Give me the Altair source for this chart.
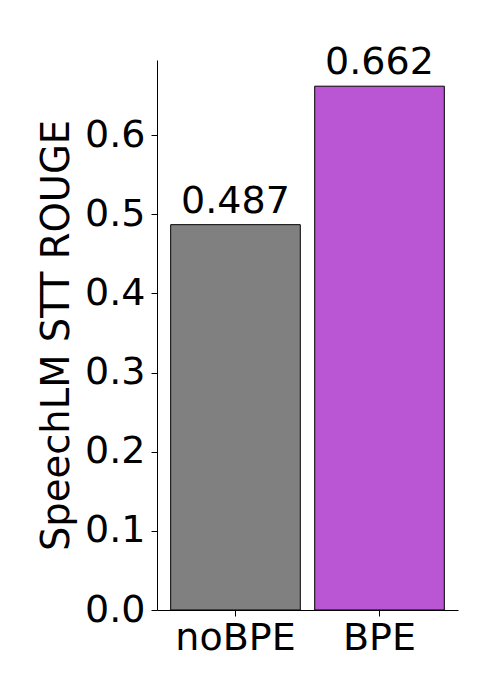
import altair as alt
import pandas as pd

categories = ["noBPE", "BPE"]
values = [0.487, 0.662]
colors = ["#808080", "#BA55D3"]
labels = ["0.487", "0.662"]

df = pd.DataFrame({"cat": categories, "val": values, "lab": labels})

FONT = "DejaVu Sans"
FS = 38

x = alt.X("cat:N", sort=categories,
          scale=alt.Scale(paddingInner=0.1, paddingOuter=0.095),
          axis=alt.Axis(title=None, labelAngle=0, labelFontSize=FS, labelFont=FONT,
                        labelColor="black", tickColor="black", tickSize=6,
                        domainColor="black", labelPadding=3))
y = alt.Y("val:Q", scale=alt.Scale(domain=[0, 0.6951], nice=False, zero=True),
          axis=alt.Axis(title="SpeechLM STT ROUGE", values=[0, 0.1, 0.2, 0.3, 0.4, 0.5, 0.6],
                        format=".1f", labelFontSize=FS, labelFont=FONT, labelColor="black",
                        titleFontSize=38.5, titleFont=FONT, titleFontWeight="normal",
                        titleColor="black", tickColor="black", tickSize=6,
                        domainColor="black", grid=False, labelPadding=6, titlePadding=8))

bars = alt.Chart(df).mark_bar(stroke="black", strokeWidth=1).encode(
    x=x, y=y,
    color=alt.Color("cat:N", scale=alt.Scale(domain=categories, range=colors), legend=None),
)
text = alt.Chart(df).mark_text(fontSize=FS, font=FONT, color="black", dy=-12,
                               baseline="alphabetic").encode(
    x=alt.X("cat:N", sort=categories), y="val:Q", text="lab:N")

chart = (bars + text).properties(
    width=301, height=550,
    autosize=alt.AutoSizeParams(type="none"),
    padding={"left": 149, "top": 52, "right": 34, "bottom": 82},
).configure_view(stroke=None).configure_axisX(domain=True).configure_axisY(domain=True)

chart.save("out.html", embed_options={"renderer": "svg", "actions": False})
